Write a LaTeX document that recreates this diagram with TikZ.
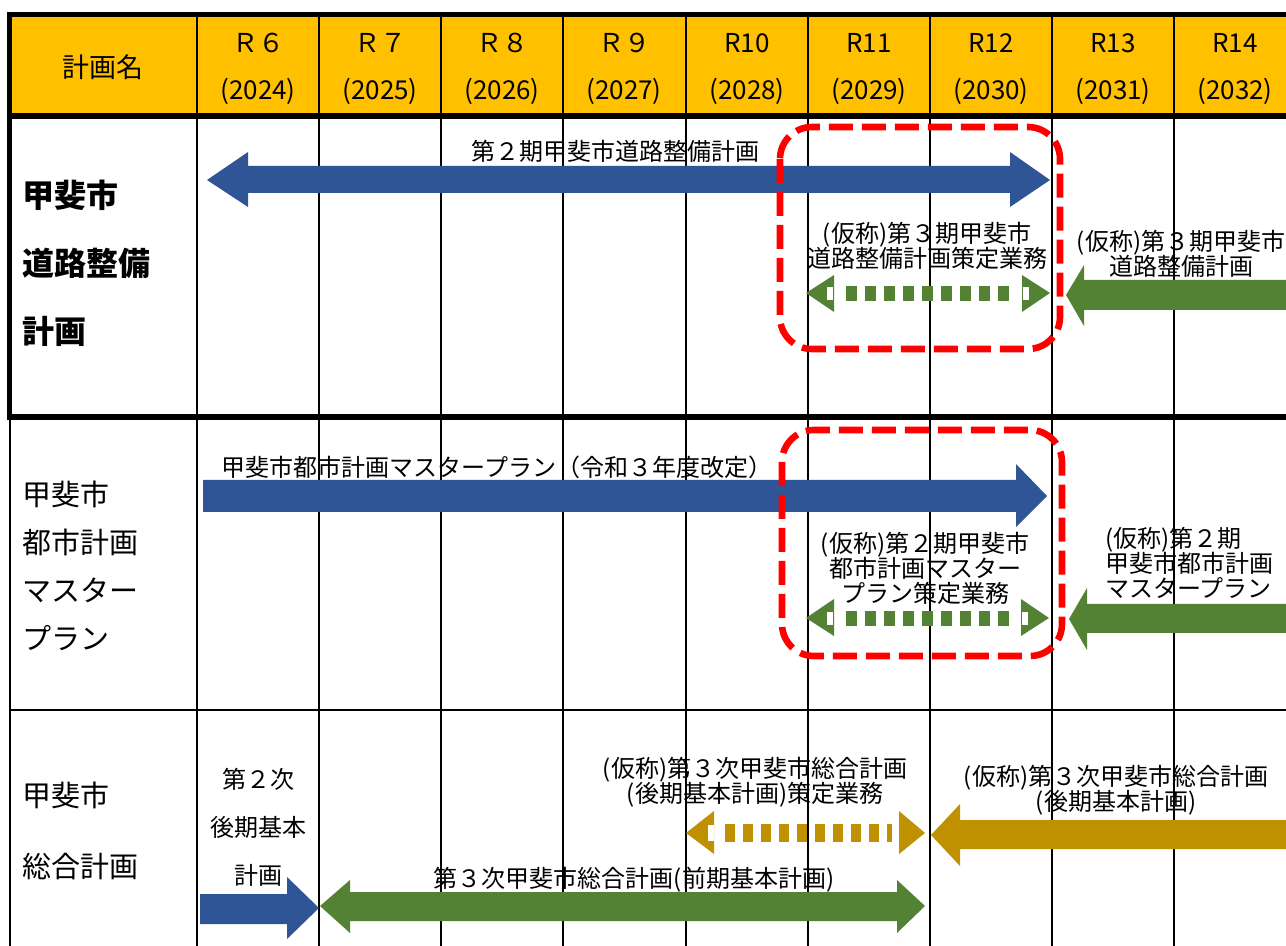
\documentclass[tikz,border=0pt]{standalone}
\usepackage{fontspec}
\setmainfont{Noto Sans CJK JP}
\usepackage{tikz}

\definecolor{hdryellow}{HTML}{FFC000}
\definecolor{planblue}{HTML}{2F5597}
\definecolor{plangreen}{HTML}{548235}
\definecolor{plangold}{HTML}{BF9000}

\tikzset{
    hdr/.style={font=\fontsize{13}{13}\selectfont, inner sep=0pt},
    lbl/.style={font=\fontsize{12}{12.5}\selectfont, align=center, inner sep=0pt},
    rowname/.style={anchor=west, align=left, inner sep=0pt},
    redbox/.style={draw=red, line width=3.3pt, dash pattern=on 12pt off 4.5pt, rounded corners=16pt},
    dotshaft/.style={line width=7.5pt, dash pattern=on 5.5pt off 4pt},
}

\begin{document}
\begin{tikzpicture}[x=0.5pt, y=-0.5pt]
            \useasboundingbox (0,0) rectangle (1286,946);
            \fill[hdryellow] (9,14) rectangle (1286,116);
            \draw[line width=1pt] (197,14) -- (197,946) (319,14) -- (319,946) (441,14) -- (441,946)
                (563,14) -- (563,946) (686,14) -- (686,946) (808,14) -- (808,946)
                (930,14) -- (930,946) (1052,14) -- (1052,946) (1174,14) -- (1174,946);
            \draw[line width=1pt] (10,416) -- (10,946);
            \draw[line width=1pt] (10,710) -- (1286,710);
            \draw[line width=2.6pt] (1286,14.5) -- (9.5,14.5) -- (9.5,417) -- (1286,417);
            \draw[line width=2.8pt] (9.5,116) -- (1286,116);
            % header
            \node[hdr, font=\fontsize{13.5}{13.5}\selectfont] (hname) at (103,67) {計画名};
            \node[hdr] (r6) at (258,43) {Ｒ６};
            \node[hdr] (y6) at (258,91) {(2024)};
            \node[hdr] (r7) at (380,43) {Ｒ７};
            \node[hdr] (y7) at (380,91) {(2025)};
            \node[hdr] (r8) at (502,43) {Ｒ８};
            \node[hdr] (y8) at (502,91) {(2026)};
            \node[hdr] (r9) at (624,43) {Ｒ９};
            \node[hdr] (y9) at (624,91) {(2027)};
            \node[hdr] (r10) at (747,43) {R10};
            \node[hdr] (y10) at (747,91) {(2028)};
            \node[hdr] (r11) at (869,43) {R11};
            \node[hdr] (y11) at (869,91) {(2029)};
            \node[hdr] (r12) at (991,43) {R12};
            \node[hdr] (y12) at (991,91) {(2030)};
            \node[hdr] (r13) at (1113,43) {R13};
            \node[hdr] (y13) at (1113,91) {(2031)};
            \node[hdr] (r14) at (1235,43) {R14};
            \node[hdr] (y14) at (1235,91) {(2032)};
            % row names
            \node[rowname, font=\fontsize{16}{34}\selectfont\bfseries] (road) at (22,263) {甲斐市\\道路整備\\計画};
            \node[rowname, font=\fontsize{14.5}{24}\selectfont] (master) at (22,566) {甲斐市\\都市計画\\マスター\\プラン};
            \node[rowname, font=\fontsize{14.5}{35.5}\selectfont] (sogo) at (22,831) {甲斐市\\総合計画};
            % road plan
            \fill[planblue] (207,180) -- (248,152) -- (248,166) -- (1010,166) -- (1010,152) -- (1050,180)
                -- (1010,207) -- (1010,193) -- (248,193) -- (248,207) -- cycle;
            \fill[plangreen] (806,293) -- (834,275) -- (834,312) -- cycle;
            \fill[plangreen] (1050,293) -- (1022,275) -- (1022,312) -- cycle;
            \fill[white] (827,287) rectangle (833,300);
            \fill[white] (1023,287) rectangle (1029,300);
            \draw[plangreen, dotshaft] (846,293.5) -- (1012,293.5);
            \fill[plangreen] (1066,295) -- (1084,265) -- (1084,280) -- (1286,280) -- (1286,310) -- (1084,310)
                -- (1084,326) -- cycle;
            \node[lbl] (road2) at (615,151) {第２期甲斐市道路整備計画};
            \node[lbl] (road3work) at (927,246) {(仮称)第３期甲斐市\\道路整備計画策定業務};
            \node[lbl] (road3) at (1181,254) {(仮称)第３期甲斐市\\道路整備計画};
            % master plan
            \fill[planblue] (203,480) -- (1016,480) -- (1016,464) -- (1047,496) -- (1016,527) -- (1016,512)
                -- (203,512) -- cycle;
            \fill[plangreen] (806,618) -- (834,599) -- (834,636) -- cycle;
            \fill[plangreen] (1049,618) -- (1021,599) -- (1021,636) -- cycle;
            \fill[white] (827,612) rectangle (833,625);
            \fill[white] (1022,612) rectangle (1028,625);
            \draw[plangreen, dotshaft] (846,618.5) -- (1011,618.5);
            \fill[plangreen] (1069,619) -- (1087,588) -- (1087,604) -- (1286,604) -- (1286,633) -- (1087,633)
                -- (1087,650) -- cycle;
            \node[lbl] (master1) at (497,467) {甲斐市都市計画マスタープラン（令和３年度改定）};
            \node[lbl] (master2work) at (925,568) {(仮称)第２期甲斐市\\都市計画マスター\\プラン策定業務};
            \node[lbl, anchor=west, align=left] (master2) at (1105,563) {(仮称)第２期\\甲斐市都市計画\\マスタープラン};
            % general plan
            \fill[planblue] (200,894) -- (287,894) -- (287,877) -- (319,908) -- (287,939) -- (287,924)
                -- (200,924) -- cycle;
            \fill[plangreen] (320,906) -- (350,880) -- (350,892) -- (897,892) -- (897,880) -- (925,906)
                -- (897,933) -- (897,921) -- (350,921) -- (350,933) -- cycle;
            \fill[plangold] (686,833) -- (714,811) -- (714,854) -- cycle;
            \fill[plangold] (925,833) -- (899,811) -- (899,854) -- cycle;
            \fill[white] (708,825) rectangle (714,841);
            \fill[white] (895,825) rectangle (899,841);
            \draw[plangold, line width=9pt, dash pattern=on 5pt off 4pt] (725,833) -- (892,833);
            \fill[plangold] (931,835) -- (960,804) -- (960,820) -- (1286,820) -- (1286,849) -- (960,849)
                -- (960,866) -- cycle;
            \node[lbl, font=\fontsize{12}{24}\selectfont] (sogo2) at (258,827) {第２次\\後期基本\\計画};
            \node[lbl] (sogo3work) at (755,782) {(仮称)第３次甲斐市総合計画\\(後期基本計画)策定業務};
            \node[lbl] (sogo3) at (1116,790) {(仮称)第３次甲斐市総合計画\\(後期基本計画)};
            \node[lbl] (sogo3first) at (634,880) {第３次甲斐市総合計画(前期基本計画)};
            % red frames
            \draw[redbox] (780,127) rectangle (1060,349);
            \draw[redbox] (782,430) rectangle (1062,656);
        \end{tikzpicture}
\end{document}
